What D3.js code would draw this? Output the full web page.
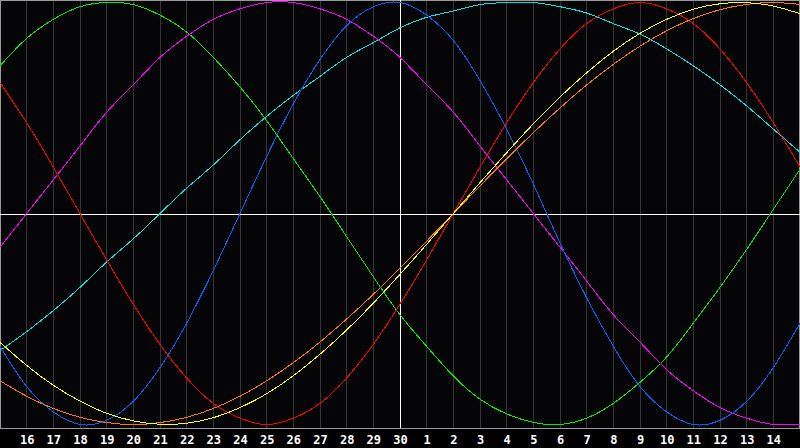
<!DOCTYPE html>
<html>
<head>
<meta charset="utf-8">
<script src="https://cdn.jsdelivr.net/npm/d3@7/dist/d3.min.js"></script>
<style>
  html, body { margin: 0; padding: 0; background: #000000; }
  svg { display: block; }
</style>
</head>
<body>
<svg id="chart" width="800" height="448"></svg>
<script>
// Day labels along the bottom (one per day, 31 positions)
const dayLabels = ["15","16","17","18","19","20","21","22","23","24","25","26","27","28","29","30",
                   "1","2","3","4","5","6","7","8","9","10","11","12","13","14","15"];

// Series values per day (-1 .. 1)
const redValues     = [0.62,0.43,0.22,0,-0.22,-0.43,-0.62,-0.78,-0.90,-0.97,-1,-0.97,-0.90,-0.78,-0.62,-0.43,-0.22,0,0.22,0.43,0.62,0.78,0.90,0.97,1,0.97,0.90,0.78,0.62,0.43,0.22];
const greenValues   = [0.70,0.83,0.92,0.98,1.00,0.99,0.94,0.86,0.74,0.60,0.44,0.26,0.08,-0.11,-0.30,-0.48,-0.63,-0.77,-0.88,-0.95,-0.99,-1.00,-0.97,-0.90,-0.80,-0.68,-0.52,-0.35,-0.17,0.02,0.21];
const blueValues    = [-0.63,-0.82,-0.94,-1.00,-0.98,-0.89,-0.73,-0.52,-0.27,0,0.27,0.52,0.73,0.89,0.98,1.00,0.94,0.82,0.63,0.40,0.14,-0.14,-0.40,-0.63,-0.82,-0.94,-1.00,-0.98,-0.89,-0.73,-0.52];
const cyanValues    = [-0.65,-0.56,-0.46,-0.35,-0.23,-0.12,0,0.12,0.23,0.35,0.46,0.56,0.65,0.74,0.81,0.88,0.93,0.96,0.99,1.00,1.00,0.98,0.95,0.90,0.85,0.78,0.70,0.61,0.51,0.40,0.29];
const magentaValues = [-0.16,0,0.16,0.32,0.48,0.61,0.74,0.84,0.92,0.97,1.00,1.00,0.97,0.92,0.84,0.74,0.61,0.48,0.32,0.16,0,-0.16,-0.32,-0.48,-0.61,-0.74,-0.84,-0.92,-0.97,-1.00,-1.00];
const orangeValues  = [-0.793,-0.866,-0.924,-0.966,-0.991,-1.00,-0.991,-0.966,-0.924,-0.866,-0.793,-0.707,-0.609,-0.50,-0.383,-0.259,-0.131,0,0.131,0.259,0.383,0.50,0.609,0.707,0.793,0.866,0.924,0.966,0.991,1.00,0.991];
const yellowValues  = [-0.611,-0.720,-0.814,-0.889,-0.947,-0.983,-0.999,-0.994,-0.968,-0.920,-0.854,-0.769,-0.667,-0.552,-0.425,-0.288,-0.146,0,0.146,0.288,0.425,0.552,0.667,0.769,0.854,0.920,0.968,0.994,0.999,0.983,0.947];

const seriesList = [
  { name: "cyan",    values: cyanValues,    color: "#00e8e8" },
  { name: "green",   values: greenValues,   color: "#00f000" },
  { name: "magenta", values: magentaValues, color: "#ff00ff" },
  { name: "blue",    values: blueValues,    color: "#0064ff" },
  { name: "red",     values: redValues,     color: "#ff0000" },
  { name: "orange",  values: orangeValues,  color: "#ff7800" },
  { name: "yellow",  values: yellowValues,  color: "#ffff00" }
];

const W = 800, plotBottom = 428;
const svg = d3.select("#chart");

svg.append("rect").attr("x", 0).attr("y", 0).attr("width", 800).attr("height", 448).attr("fill", "#000000");
svg.append("rect").attr("x", 0).attr("y", 0).attr("width", 800).attr("height", plotBottom).attr("fill", "#050508");

const x = d3.scaleLinear().domain([0, dayLabels.length - 1]).range([0, W]);
const y = d3.scaleLinear().domain([-1, 1]).range([424.5, 2.5]);

const centerIndex = dayLabels.indexOf("30");

// vertical day grid lines
const gridG = svg.append("g").attr("shape-rendering", "crispEdges");
gridG.selectAll("line.grid")
  .data(d3.range(1, dayLabels.length - 1).filter(i => i !== centerIndex))
  .join("line")
  .attr("class", "grid")
  .attr("x1", i => Math.floor(x(i)) + 0.5)
  .attr("x2", i => Math.floor(x(i)) + 0.5)
  .attr("y1", 0)
  .attr("y2", plotBottom)
  .attr("stroke", "#363636")
  .attr("stroke-width", 1);

// border
gridG.append("line").attr("x1", 0).attr("x2", W).attr("y1", 0.5).attr("y2", 0.5).attr("stroke", "#9a9a9a");
gridG.append("line").attr("x1", 0.5).attr("x2", 0.5).attr("y1", 0).attr("y2", plotBottom).attr("stroke", "#9a9a9a");
gridG.append("line").attr("x1", W - 0.5).attr("x2", W - 0.5).attr("y1", 0).attr("y2", plotBottom).attr("stroke", "#9a9a9a");
gridG.append("line").attr("x1", 0).attr("x2", W).attr("y1", plotBottom + 0.5).attr("y2", plotBottom + 0.5).attr("stroke", "#9a9a9a");

// centre cross
gridG.append("line").attr("x1", 0).attr("x2", W).attr("y1", 214.5).attr("y2", 214.5).attr("stroke", "#ffffff");
gridG.append("line").attr("x1", Math.floor(x(centerIndex)) + 0.5).attr("x2", Math.floor(x(centerIndex)) + 0.5)
  .attr("y1", 0).attr("y2", plotBottom).attr("stroke", "#ffffff");

// curves
const line = d3.line()
  .x((d, i) => x(i))
  .y(d => y(d))
  .curve(d3.curveNatural);

svg.append("g")
  .selectAll("path")
  .data(seriesList)
  .join("path")
  .attr("d", s => line(s.values))
  .attr("fill", "none")
  .attr("stroke", s => s.color)
  .attr("stroke-width", 1)
  .attr("shape-rendering", "crispEdges");

// day labels
const axis = d3.axisBottom(x)
  .tickValues(d3.range(1, dayLabels.length - 1))
  .tickFormat(i => dayLabels[i])
  .tickSize(0)
  .tickPadding(0);

const axisG = svg.append("g").attr("transform", `translate(0,${plotBottom})`).call(axis);
axisG.select(".domain").remove();
axisG.selectAll("text")
  .attr("y", 15.5)
  .attr("dy", null)
  .attr("fill", "#ffffff")
  .style("font-family", "'DejaVu Sans Mono', monospace")
  .style("font-weight", "bold")
  .style("font-size", "12px");
</script>
</body>
</html>
